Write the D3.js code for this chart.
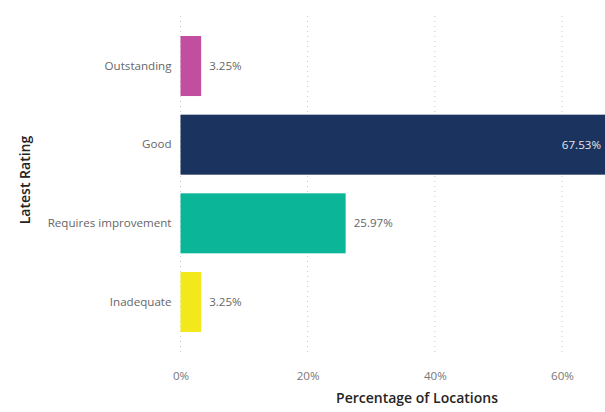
<!DOCTYPE html>
<html><head><meta charset="utf-8">
<script src="https://cdn.jsdelivr.net/npm/d3@7"></script>
<style>body{margin:0;background:#fff;overflow:hidden}svg{display:block}</style>
</head><body><svg id="c" width="605" height="412"></svg>
<script>
const categories = ["Outstanding", "Good", "Requires improvement", "Inadequate"];
const values = [3.25, 67.53, 25.97, 3.25];
const colors = ["#C24E9F", "#1B335F", "#0BB597", "#F2E81C"];
const tickValues = [0, 20, 40, 60];
const xTitle = "Percentage of Locations";
const yTitle = "Latest Rating";

const svg = d3.select("#c");
const font = "'Segoe UI', 'Open Sans', 'Noto Sans', sans-serif";
const x = d3.scaleLinear().domain([0, 60]).range([180.5, 562]);
const y = d3.scaleBand().domain(categories).range([26.7, 341.3]).paddingInner(0.237).paddingOuter(0.1185);

// gridlines
svg.append("g").selectAll("line").data(tickValues).join("line")
  .attr("x1", d => x(d)).attr("x2", d => x(d)).attr("y1", 16).attr("y2", 356)
  .attr("stroke", "#c8c8c8").attr("stroke-width", 1).attr("stroke-dasharray", "1,4");

// bars
svg.append("g").selectAll("rect").data(categories).join("rect")
  .attr("x", x(0)).attr("y", d => y(d))
  .attr("width", (d, i) => x(values[i]) - x(0))
  .attr("height", y.bandwidth())
  .attr("fill", (d, i) => colors[i]);

// value labels
svg.append("g").selectAll("text").data(categories).join("text")
  .attr("font-family", font).attr("font-size", 11.6)
  .attr("y", d => y(d) + y.bandwidth() / 2).attr("dy", "0.35em")
  .each(function(d, i) {
    const v = values[i];
    const end = x(v);
    const sel = d3.select(this).text(v.toFixed(2) + "%");
    if (end > 560) {
      sel.attr("x", 601).attr("text-anchor", "end").attr("fill", "#e6e6e6");
    } else {
      sel.attr("x", end + 8).attr("text-anchor", "start").attr("fill", "#666");
    }
  });

// y axis category labels
const yAxis = d3.axisLeft(y).tickSize(0).tickPadding(9);
const gy = svg.append("g").attr("transform", `translate(${x(0)},0)`).call(yAxis);
gy.select(".domain").remove();
gy.selectAll("text").attr("font-family", font).attr("font-size", 11.6).attr("fill", "#666");

// x axis ticks
const xAxis = d3.axisBottom(x).tickValues(tickValues).tickFormat(d => d + "%").tickSize(0).tickPadding(0);
const gx = svg.append("g").attr("transform", "translate(0,372)").call(xAxis);
gx.select(".domain").remove();
gx.selectAll("text").attr("font-family", font).attr("font-size", 11.6).attr("fill", "#777");

// titles
svg.append("text").attr("x", 417).attr("y", 403).attr("text-anchor", "middle")
  .attr("font-family", font).attr("font-size", 14).attr("fill", "#252423").attr("font-weight", 600)
  .text(xTitle);
svg.append("text").attr("transform", "translate(30,180) rotate(-90)").attr("text-anchor", "middle")
  .attr("font-family", font).attr("font-size", 14).attr("fill", "#252423").attr("font-weight", 600)
  .text(yTitle);
</script></body></html>
